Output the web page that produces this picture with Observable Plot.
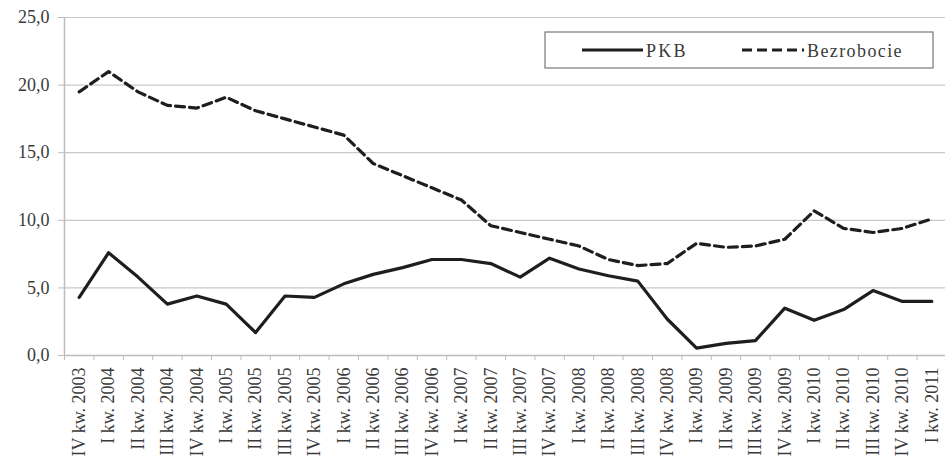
<!DOCTYPE html>
<html><head><meta charset="utf-8">
<script src="https://cdn.jsdelivr.net/npm/d3@7"></script>
<script src="https://cdn.jsdelivr.net/npm/@observablehq/plot@0.6"></script>
<style>
body{margin:0;background:#fff;}
#chart{position:relative;width:945px;height:472px;overflow:hidden;}
</style>
</head><body><div id="chart"></div>
<script>
const quarters = ["IV kw. 2003","I kw. 2004","II kw. 2004","III kw. 2004","IV kw. 2004","I kw. 2005","II kw. 2005","III kw. 2005","IV kw. 2005","I kw. 2006","II kw. 2006","III kw. 2006","IV kw. 2006","I kw. 2007","II kw. 2007","III kw. 2007","IV kw. 2007","I kw. 2008","II kw. 2008","III kw. 2008","IV kw. 2008","I kw. 2009","II kw. 2009","III kw. 2009","IV kw. 2009","I kw. 2010","II kw. 2010","III kw. 2010","IV kw. 2010","I kw. 2011"];
const pkb = [4.3,7.6,5.8,3.8,4.4,3.8,1.7,4.4,4.3,5.3,6.0,6.5,7.1,7.1,6.8,5.8,7.2,6.4,5.9,5.5,2.7,0.55,0.9,1.1,3.5,2.6,3.4,4.8,4.0,4.0];
const bezrobocie = [19.5,21.0,19.5,18.5,18.3,19.1,18.1,17.5,16.9,16.3,14.2,13.3,12.4,11.5,9.6,9.1,8.6,8.1,7.1,6.65,6.8,8.3,8.0,8.1,8.6,10.7,9.4,9.1,9.4,10.1];
const yTicks = [0,5,10,15,20,25];
const seriesNames = ["PKB","Bezrobocie"];

const pts = quarters.map((q,i)=>({i:i+0.5,q,pkb:pkb[i],bez:bezrobocie[i]}));
const centers = quarters.map((q,i)=>i+0.5);
const bounds = d3.range(0, quarters.length+1);
const font = "'Liberation Serif', 'Times New Roman', serif";

const plot = Plot.plot({
  width:945, height:472,
  marginTop:17, marginBottom:117, marginLeft:64, marginRight:0,
  style:{fontFamily:font, fontSize:"18px", color:"#3a3a3a", background:"#fff"},
  x:{domain:[0,quarters.length], range:[64, 946]},
  y:{domain:[0,25], range:[355,17]},
  marks:[
    Plot.ruleY(yTicks.filter(d=>d>0), {stroke:"#c8c8c8", strokeWidth:1.2}),
    Plot.ruleY([0], {stroke:"#bdbdbd", strokeWidth:1.5}),
    Plot.ruleX([0], {stroke:"#bdbdbd", strokeWidth:1.5}),
    Plot.axisY({ticks:yTicks, tickSize:6, tickPadding:9, stroke:"#bdbdbd", tickFormat:d=>d.toFixed(1).replace(".",","), label:null, fontSize:18, letterSpacing:2}),
    Plot.axisX({ticks:bounds, tickSize:5, tickFormat:()=>"", stroke:"#bdbdbd", label:null}),
    Plot.axisX({ticks:centers, tickSize:0, tickPadding:12, tickRotate:-90, tickFormat:d=>quarters[Math.round(d-0.5)], label:null, fontSize:18, letterSpacing:1.2}),
    Plot.line(pts, {x:"i", y:"bez", stroke:"#1e1e1e", strokeWidth:3.2, strokeDasharray:"9,5"}),
    Plot.line(pts, {x:"i", y:"pkb", stroke:"#1e1e1e", strokeWidth:3.2})
  ]
});
document.getElementById("chart").appendChild(plot);

// legend inside plot area
const svg = d3.select(plot);
const lg = svg.append("g").attr("font-family", font).attr("font-size", 18).attr("fill","#3a3a3a").attr("text-anchor","start");
lg.append("rect").attr("x",545).attr("y",32).attr("width",388).attr("height",36).attr("fill","#fff").attr("stroke","#777").attr("stroke-width",1.2);
lg.append("line").attr("x1",582).attr("x2",643).attr("y1",50).attr("y2",50).attr("stroke","#1e1e1e").attr("stroke-width",3.2);
lg.append("text").attr("x",646).attr("y",57).attr("letter-spacing","2.2").text(seriesNames[0]);
lg.append("line").attr("x1",742).attr("x2",804).attr("y1",50).attr("y2",50).attr("stroke","#1e1e1e").attr("stroke-width",3.2).attr("stroke-dasharray","10,5");
lg.append("text").attr("x",807).attr("y",57).attr("letter-spacing","1.4").text(seriesNames[1]);
</script></body></html>
